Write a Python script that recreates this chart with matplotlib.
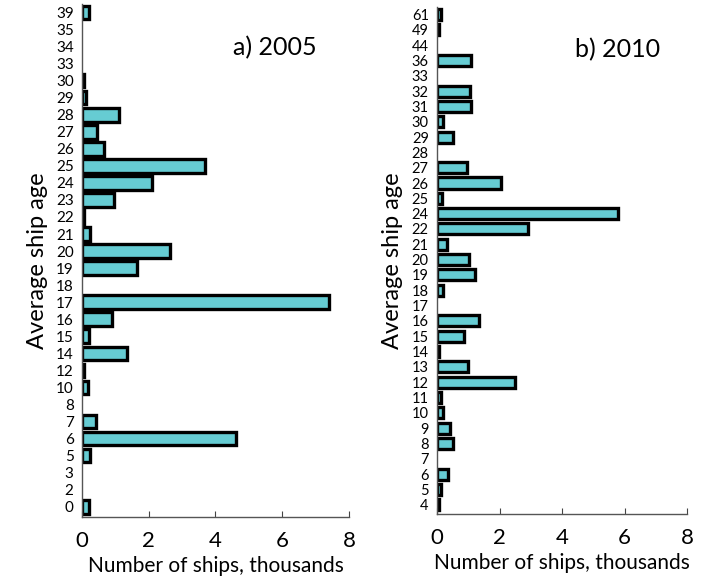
import matplotlib
matplotlib.use("Agg")
import matplotlib.pyplot as plt

# 2005 panel, top to bottom
ages_2005 = ["39", "35", "34", "33", "30", "29", "28", "27", "26", "25", "24", "23",
             "22", "21", "20", "19", "18", "17", "16", "15", "14", "12", "10", "8",
             "7", "6", "5", "3", "2", "0"]
ships_2005 = [0.2, 0, 0, 0, 0.05, 0.12, 1.1, 0.45, 0.65, 3.7, 2.1, 0.95,
              0.05, 0.25, 2.65, 1.65, 0, 7.4, 0.9, 0.22, 1.35, 0.05, 0.18, 0,
              0.42, 4.6, 0.25, 0, 0, 0.2]

# 2010 panel, top to bottom
ages_2010 = ["61", "49", "44", "36", "33", "32", "31", "30", "29", "28", "27", "26",
             "25", "24", "22", "21", "20", "19", "18", "17", "16", "15", "14", "13",
             "12", "11", "10", "9", "8", "7", "6", "5", "4"]
ships_2010 = [0.12, 0.06, 0, 1.07, 0, 1.05, 1.1, 0.2, 0.52, 0, 0.97, 2.05,
              0.15, 5.8, 2.9, 0.33, 1.02, 1.2, 0.2, 0, 1.35, 0.87, 0.06, 1.0,
              2.5, 0.12, 0.2, 0.4, 0.52, 0, 0.35, 0.12, 0.05]

xticks = [0, 2, 4, 6, 8]
FILL = "#66CCD3"

plt.rcParams["font.family"] = ["Lato", "DejaVu Sans"]

fig = plt.figure(figsize=(7.05, 5.87), dpi=100)
ax1 = fig.add_axes([0.1163, 0.1193, 0.3787, 0.874])
ax2 = fig.add_axes([0.620, 0.1244, 0.3546, 0.864])


def panel(ax, ages, vals, title, bar_h, ytick_fs, title_xy):
    n = len(ages)
    pos = list(range(n - 1, -1, -1))
    for p, v in zip(pos, vals):
        if v > 0:
            ax.barh(p, v, height=bar_h, color=FILL, edgecolor="black", linewidth=2.4)
    ax.set_yticks(pos)
    ax.set_yticklabels(ages, fontsize=ytick_fs)
    ax.set_ylim(-0.6, n - 0.5)
    ax.set_xlim(0, 8)
    ax.set_xticks(xticks)
    ax.set_xticklabels([str(t) for t in xticks], fontsize=16)
    ax.tick_params(axis="y", length=0, pad=6)
    ax.tick_params(axis="x", direction="in", length=4, pad=10, color="#444444")
    for s in ["top", "right"]:
        ax.spines[s].set_visible(False)
    for s in ["left", "bottom"]:
        ax.spines[s].set_color("#555555")
        ax.spines[s].set_linewidth(1.0)
    ax.set_xlabel("Number of ships, thousands", fontsize=15, labelpad=4)
    ax.set_ylabel("Average ship age", fontsize=17, labelpad=6)
    ax.text(title_xy[0], title_xy[1], title, transform=ax.transAxes,
            fontsize=18, ha="left", va="center")


panel(ax1, ages_2005, ships_2005, "a) 2005", 0.8, 11, (0.565, 0.915))
panel(ax2, ages_2010, ships_2010, "b) 2010", 0.72, 10.5, (0.55, 0.915))

fig.savefig("out.png", dpi=100)
